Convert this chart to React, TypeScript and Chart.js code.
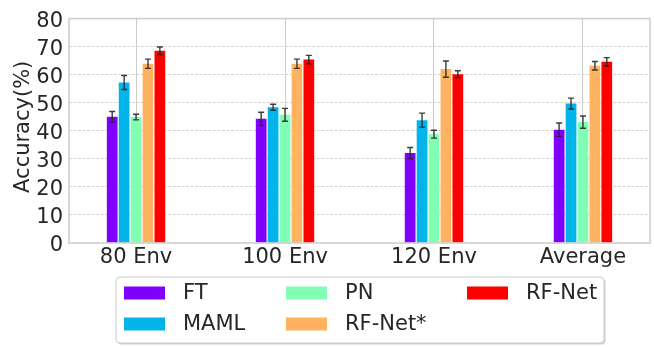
import React, { useEffect, useRef } from "react";
import { Chart, registerables } from "chart.js";

Chart.register(...registerables);

const categories = ["80 Env", "100 Env", "120 Env", "Average"];
const seriesNames = ["FT", "MAML", "PN", "RF-Net*", "RF-Net"];
const seriesColors = ["#8000ff", "#01b5eb", "#80ffb4", "#ffb360", "#ff0000"];
const ftValues = [45.0, 44.3, 32.1, 40.4];
const ftErrors = [1.9, 2.3, 1.95, 2.4];
const mamlValues = [57.2, 48.4, 43.8, 49.7];
const mamlErrors = [2.5, 1.05, 2.5, 1.95];
const pnValues = [44.9, 45.7, 38.8, 43.1];
const pnErrors = [1.0, 2.3, 1.4, 2.2];
const rfStarValues = [63.9, 63.9, 62.0, 63.2];
const rfStarErrors = [1.65, 1.65, 2.9, 1.5];
const rfValues = [68.5, 65.4, 60.2, 64.6];
const rfErrors = [1.35, 1.5, 1.2, 1.5];
const yTicks = [0, 10, 20, 30, 40, 50, 60, 70, 80];
const yTitle = "Accuracy(%)";

const allValues = [ftValues, mamlValues, pnValues, rfStarValues, rfValues];
const allErrors = [ftErrors, mamlErrors, pnErrors, rfStarErrors, rfErrors];

const FONT = "'DejaVu Sans', sans-serif";
const TEXT = "#262626";

const framePlugin = {
  id: "frameAndErrors",
  afterDatasetsDraw(chart: any) {
    const { ctx, chartArea } = chart;
    const yScale = chart.scales.y;
    ctx.save();
    ctx.strokeStyle = "#cccccc";
    ctx.lineWidth = 1.5;
    ctx.strokeRect(chartArea.left, chartArea.top, chartArea.right - chartArea.left, chartArea.bottom - chartArea.top);
    ctx.strokeStyle = "rgba(38,38,38,0.9)";
    ctx.lineWidth = 1.4;
    chart.data.datasets.forEach((ds: any, di: number) => {
      const meta = chart.getDatasetMeta(di);
      meta.data.forEach((el: any, i: number) => {
        const v = allValues[di][i];
        const e = allErrors[di][i];
        const yt = yScale.getPixelForValue(v + e);
        const yb = yScale.getPixelForValue(v - e);
        const x = el.x;
        ctx.beginPath();
        ctx.moveTo(x, yt);
        ctx.lineTo(x, yb);
        ctx.moveTo(x - 3, yt);
        ctx.lineTo(x + 3, yt);
        ctx.moveTo(x - 3, yb);
        ctx.lineTo(x + 3, yb);
        ctx.stroke();
      });
    });
    ctx.restore();
  },
};

const legendPlugin = {
  id: "customLegend",
  afterDraw(chart: any) {
    const { ctx, chartArea } = chart;
    ctx.save();
    // y-axis title
    ctx.font = `21px ${FONT}`;
    ctx.fillStyle = TEXT;
    ctx.textAlign = "center";
    ctx.textBaseline = "middle";
    ctx.translate(24, (chartArea.top + chartArea.bottom) / 2 - 4);
    ctx.rotate(-Math.PI / 2);
    ctx.fillText(yTitle, 0, 0);
    ctx.restore();

    ctx.save();
    const bx = 116, by = 277, bw = 488, bh = 66, r = 4;
    const rr = (x: number, y: number, w: number, h: number) => {
      ctx.beginPath();
      ctx.moveTo(x + r, y);
      ctx.lineTo(x + w - r, y);
      ctx.quadraticCurveTo(x + w, y, x + w, y + r);
      ctx.lineTo(x + w, y + h - r);
      ctx.quadraticCurveTo(x + w, y + h, x + w - r, y + h);
      ctx.lineTo(x + r, y + h);
      ctx.quadraticCurveTo(x, y + h, x, y + h - r);
      ctx.lineTo(x, y + r);
      ctx.quadraticCurveTo(x, y, x + r, y);
      ctx.closePath();
    };
    rr(bx + 1.5, by + 1.5, bw, bh);
    ctx.fillStyle = "rgba(0,0,0,0.18)";
    ctx.fill();
    rr(bx, by, bw, bh);
    ctx.fillStyle = "#ffffff";
    ctx.fill();
    ctx.strokeStyle = "#cccccc";
    ctx.lineWidth = 1;
    ctx.stroke();
    const colX = [124, 286, 467];
    const rowY = [293, 324];
    ctx.font = `21px ${FONT}`;
    ctx.textBaseline = "middle";
    ctx.textAlign = "left";
    chart.data.datasets.forEach((ds: any, i: number) => {
      const col = Math.floor(i / 2);
      const row = i % 2;
      const x = colX[col];
      const y = rowY[row];
      ctx.fillStyle = ds.backgroundColor;
      ctx.fillRect(x, y - 6.5, 41, 13);
      ctx.fillStyle = TEXT;
      ctx.fillText(ds.label, x + 59, y + 1);
    });
    ctx.restore();
  },
};

export default function App() {
  const ref = useRef<HTMLCanvasElement | null>(null);
  useEffect(() => {
    if (!ref.current) return;
    const chart = new Chart(ref.current, {
      type: "bar",
      data: {
        datasets: seriesNames.map((name, di) => ({
          label: name,
          data: allValues[di].map((v, i) => ({ x: i, y: v })),
          backgroundColor: seriesColors[di],
          borderWidth: 0,
          categoryPercentage: 0.4,
          barPercentage: 0.9,
        })),
      },
      options: {
        responsive: false,
        animation: false,
        events: [],
        layout: { padding: { left: 0, top: 17, right: 4, bottom: 74 } },
        plugins: { legend: { display: false }, tooltip: { enabled: false } },
        scales: {
          x: {
            type: "linear",
            min: -0.45,
            max: 3.45,
            offset: false,
            afterBuildTicks: (s: any) => {
              s.ticks = categories.map((_, i) => ({ value: i }));
            },
            afterFit: (s: any) => {
              s.height = 30;
            },
            ticks: {
              callback: (v: any) => categories[Math.round(Number(v))] ?? "",
              font: { family: FONT, size: 21 },
              color: TEXT,
              padding: 2,
              maxRotation: 0,
              autoSkip: false,
            },
            grid: { color: "#cccccc", lineWidth: 1, drawTicks: false, offset: false },
            border: { display: false },
          },
          y: {
            min: 0,
            max: 80,
            afterBuildTicks: (s: any) => {
              s.ticks = yTicks.map((v) => ({ value: v }));
            },
            afterFit: (s: any) => {
              s.width = 69;
            },
            ticks: {
              font: { family: FONT, size: 21 },
              color: TEXT,
              padding: 6,
              labelOffset: 3,
              autoSkip: false,
            },
            grid: {
              color: (c: any) => (c.tick && (c.tick.value === 0 || c.tick.value === 80) ? "rgba(0,0,0,0)" : "#d4d4d4"),
              lineWidth: 1,
              drawTicks: false,
            },
            border: { display: false, dash: [3, 1.5] },
          },
        },
      },
      plugins: [framePlugin, legendPlugin],
    } as any);
    return () => chart.destroy();
  }, []);
  return (
    <div style={{ position: "fixed", left: 0, top: 0, width: 654, height: 347, background: "#fff" }}>
      <canvas ref={ref} width={654} height={347} style={{ display: "block" }} />
    </div>
  );
}
